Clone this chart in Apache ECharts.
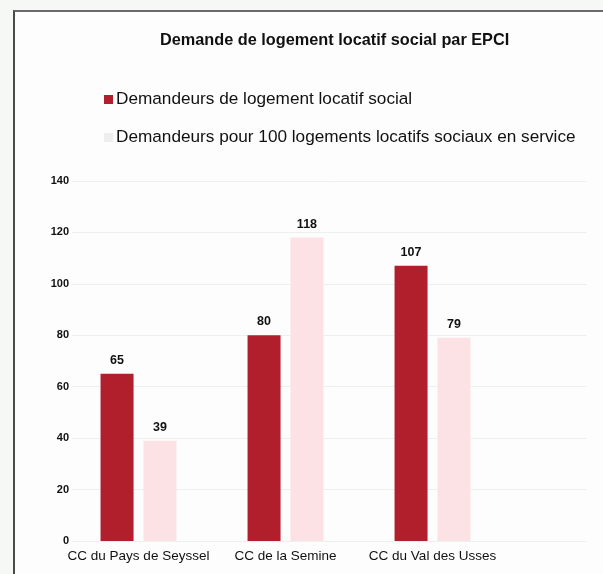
<!DOCTYPE html>
<html>
<head>
<meta charset="utf-8">
<script src="https://cdn.jsdelivr.net/npm/echarts@6/dist/echarts.min.js"></script>
<style>
  html, body { margin: 0; padding: 0; background: #f6f8f6; }
  #frame {
    position: absolute; left: 13px; top: 10px; width: 588px; height: 566px;
    border-left: 2px solid #4a4a4a; border-top: 2px solid #6a6a6a;
    border-right: 1px solid #d8d8d8; background: #fcfdfc;
  }
  #chart { position: absolute; left: 0; top: 0; width: 603px; height: 574px; }
</style>
</head>
<body>
<div id="frame"></div>
<div id="chart"></div>
<script>
const categories = ['CC du Pays de Seyssel', 'CC de la Semine', 'CC du Val des Usses'];
const seriesNames = [
  'Demandeurs de logement locatif social',
  'Demandeurs pour 100 logements locatifs sociaux en service'
];
const demandeurs = [65, 80, 107];
const pour100 = [39, 118, 79];

const darkRed = '#b11f2d';
const palePink = '#fde2e5';
const textColor = '#111';

const chart = echarts.init(document.getElementById('chart'));
chart.setOption({
  backgroundColor: 'transparent',
  animation: false,
  title: {
    text: 'Demande de logement locatif social par EPCI',
    left: 155,
    top: 28,
    textStyle: { fontFamily: 'Liberation Sans', fontSize: 16.3, fontWeight: 'bold', color: textColor }
  },
  legend: {
    orient: 'vertical',
    left: 99,
    top: 86,
    itemWidth: 9,
    itemHeight: 9,
    itemGap: 21,
    icon: 'rect',
    textStyle: { fontFamily: 'Liberation Sans', fontSize: 17.2, color: textColor, padding: [0, 0, 0, -2] },
    data: [
      { name: seriesNames[0], itemStyle: { color: darkRed } },
      { name: seriesNames[1], itemStyle: { color: '#eeeeee' } }
    ]
  },
  grid: [
    { left: 65, width: 441, top: 181, bottom: 33 },
    { left: 72, right: 16, top: 181, bottom: 33 }
  ],
  xAxis: [
    {
      gridIndex: 0,
      type: 'category',
      data: categories,
      axisLine: { show: false },
      axisTick: { show: false },
      axisLabel: { interval: 0, fontFamily: 'Liberation Sans', fontSize: 13.5, color: textColor, margin: 8 }
    },
    { gridIndex: 1, type: 'category', data: categories, show: false }
  ],
  yAxis: [
    {
      gridIndex: 0,
      type: 'value',
      min: 0,
      max: 140,
      interval: 20,
      offset: -8,
      splitLine: { show: false },
      axisLine: { show: false },
      axisTick: { show: false },
      axisLabel: { fontFamily: 'Liberation Sans', fontSize: 11, fontWeight: 'bold', color: textColor, margin: 4 }
    },
    {
      gridIndex: 1,
      type: 'value',
      min: 0,
      max: 140,
      interval: 20,
      axisLine: { show: false },
      axisTick: { show: false },
      axisLabel: { show: false },
      splitLine: { lineStyle: { color: '#edf1ed', width: 1 } }
    }
  ],
  series: [
    {
      name: seriesNames[0],
      type: 'bar',
      data: demandeurs,
      barWidth: 33,
      barGap: '30%',
      itemStyle: { color: darkRed },
      label: {
        show: true, position: 'top', distance: 7,
        fontFamily: 'Liberation Sans', fontSize: 12.5, fontWeight: 'bold', color: textColor
      }
    },
    {
      name: seriesNames[1],
      type: 'bar',
      data: pour100,
      barWidth: 33,
      itemStyle: { color: palePink },
      label: {
        show: true, position: 'top', distance: 7,
        fontFamily: 'Liberation Sans', fontSize: 12.5, fontWeight: 'bold', color: textColor
      }
    }
  ]
});
</script>
</body>
</html>
